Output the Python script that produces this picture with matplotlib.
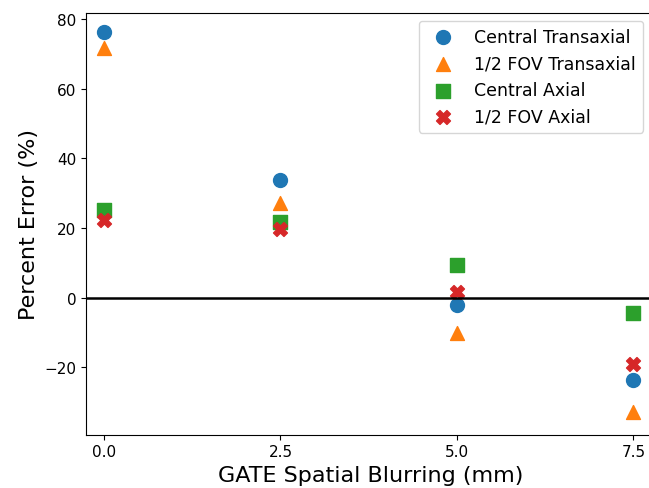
import numpy as np
import matplotlib.pyplot as plt

blurring = [0.0, 2.5, 5.0, 7.5]
central_transaxial = [76.2, 33.9, -2.1, -23.5]
half_fov_transaxial = [71.8, 27.2, -10.1, -32.7]
central_axial = [25.2, 21.8, 9.4, -4.4]
half_fov_axial = [22.4, 19.7, 1.7, -19.0]

fig = plt.figure(figsize=(6.49, 4.89), dpi=100)
ax = fig.add_axes([0.1325, 0.109, 0.876, 0.862])

ax.scatter(blurring, central_transaxial, marker='o', s=100, label='Central Transaxial')
ax.scatter(blurring, half_fov_transaxial, marker='^', s=100, label='1/2 FOV Transaxial')
ax.scatter(blurring, central_axial, marker='s', s=100, label='Central Axial')
ax.scatter(blurring, half_fov_axial, marker='X', s=100, label='1/2 FOV Axial')
ax.axhline(0, color='k', lw=1.8)

ax.set_xlim(-0.255, 7.8)
ax.set_ylim(-39.3, 81.7)
ax.set_xticks(blurring)
ax.set_yticks([-20, 0, 20, 40, 60, 80])
ax.tick_params(labelsize=11)
ax.set_xlabel('GATE Spatial Blurring (mm)', fontsize=16)
ax.set_ylabel('Percent Error (%)', fontsize=16)
ax.legend(fontsize=12.5, loc='upper right', bbox_to_anchor=(0.991, 0.955),
          bbox_transform=fig.transFigure, borderaxespad=0)

fig.savefig('out.png', dpi=100)
